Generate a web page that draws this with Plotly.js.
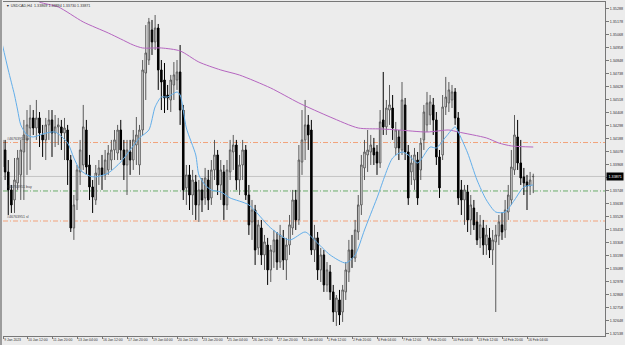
<!DOCTYPE html>
<html><head><meta charset="utf-8">
<script src="https://cdn.plot.ly/plotly-3.0.1.min.js"></script>
<style>html,body{margin:0;padding:0;background:#ececec;overflow:hidden}#chart{width:625px;height:345px}</style>
</head><body><div id="chart"></div>
<script>
const headerText = "\u25BC USDCAD,H4  1.33869 1.33894 1.33730 1.33871";
const firstBar = 1;
const openP = [1.34180,1.34095,1.33909,1.33757,1.33672,1.33816,1.33884,1.34078,1.34180,1.34281,1.34366,1.34281,1.34366,1.34222,1.34180,1.34307,1.34349,1.34239,1.34290,1.34290,1.34239,1.34264,1.34010,1.33435,1.33672,1.33909,1.33968,1.34264,1.33968,1.33782,1.33672,1.33884,1.33943,1.33884,1.33926,1.34010,1.34095,1.34069,1.34264,1.34095,1.33968,1.34078,1.34010,1.34137,1.33968,1.34264,1.34746,1.34856,1.35110,1.35009,1.35127,1.34772,1.34687,1.34560,1.34518,1.34645,1.34687,1.34755,1.34433,1.33774,1.33884,1.33714,1.33824,1.33630,1.33757,1.33689,1.33841,1.33689,1.33926,1.34053,1.33799,1.33909,1.33630,1.33909,1.34078,1.34137,1.33841,1.33968,1.34095,1.33714,1.33486,1.33587,1.33266,1.33435,1.33207,1.33291,1.33080,1.33232,1.33334,1.33147,1.33351,1.33164,1.33291,1.33435,1.33672,1.33503,1.33993,1.34180,1.34307,1.34264,1.33249,1.33351,1.33080,1.33207,1.32953,1.33063,1.32894,1.32724,1.32826,1.32724,1.32894,1.33063,1.33249,1.33181,1.33401,1.33630,1.33943,1.34053,1.34078,1.34112,1.34078,1.33985,1.34349,1.34290,1.34433,1.34450,1.34112,1.34205,1.34095,1.34476,1.34078,1.33909,1.33841,1.34010,1.33926,1.34180,1.34307,1.34391,1.34476,1.34349,1.34036,1.34053,1.34459,1.34493,1.34518,1.34586,1.34366,1.33757,1.33672,1.33740,1.33503,1.33604,1.33486,1.33351,1.33435,1.33291,1.33351,1.33249,1.33317,1.33368,1.33461,1.33418,1.33570,1.33672,1.33926,1.34205,1.33985,1.33867,1.33824,1.33791,1.33869];
const highP = [1.34307,1.34180,1.34010,1.33799,1.34027,1.34095,1.34180,1.34349,1.34433,1.34476,1.34433,1.34518,1.34416,1.34307,1.34366,1.34433,1.34433,1.34391,1.34366,1.34349,1.34366,1.34307,1.34053,1.33714,1.33968,1.34180,1.34476,1.34349,1.34053,1.33841,1.33968,1.34010,1.34053,1.34095,1.34137,1.34180,1.34264,1.34307,1.34349,1.34180,1.34180,1.34180,1.34264,1.34374,1.34307,1.34856,1.35152,1.35212,1.35195,1.35237,1.35161,1.34856,1.34831,1.34645,1.34730,1.34839,1.34856,1.34983,1.34476,1.33968,1.33968,1.33926,1.33884,1.33841,1.33858,1.33943,1.33926,1.34010,1.34180,1.34095,1.34010,1.33968,1.34010,1.34180,1.34222,1.34180,1.34053,1.34180,1.34137,1.33799,1.33672,1.33630,1.33503,1.33503,1.33376,1.33351,1.33291,1.33418,1.33401,1.33461,1.33418,1.33351,1.33545,1.33757,1.33757,1.34137,1.34433,1.34518,1.34391,1.34349,1.33461,1.33401,1.33266,1.33249,1.33147,1.33122,1.32953,1.32868,1.32911,1.32953,1.33147,1.33334,1.33376,1.33503,1.33714,1.34053,1.34180,1.34264,1.34222,1.34197,1.34137,1.34433,1.34755,1.34518,1.34645,1.34560,1.34332,1.34264,1.34670,1.34535,1.34137,1.34053,1.34112,1.34078,1.34197,1.34476,1.34586,1.34560,1.34535,1.34416,1.34095,1.34560,1.34713,1.34670,1.34645,1.34619,1.34416,1.33841,1.33799,1.33799,1.33714,1.33672,1.33570,1.33545,1.33503,1.33461,1.33435,1.33418,1.33461,1.33545,1.33570,1.33672,1.33799,1.34095,1.34391,1.34349,1.34180,1.33943,1.33884,1.33909,1.33894];
const lowP = [1.33909,1.33841,1.33545,1.33562,1.33562,1.33757,1.33672,1.33672,1.33884,1.33926,1.34222,1.34180,1.34120,1.34036,1.34010,1.34180,1.34036,1.34120,1.34137,1.34095,1.34010,1.33799,1.33401,1.33334,1.33587,1.33799,1.33926,1.33884,1.33672,1.33562,1.33630,1.33799,1.33757,1.33841,1.33884,1.33926,1.34010,1.34010,1.34010,1.33841,1.33714,1.33884,1.33926,1.33968,1.33884,1.34222,1.34518,1.34814,1.34899,1.34941,1.34603,1.34433,1.34408,1.34433,1.34416,1.34518,1.34603,1.34307,1.33672,1.33630,1.33587,1.33545,1.33503,1.33486,1.33570,1.33630,1.33587,1.33630,1.33841,1.33714,1.33672,1.33503,1.33587,1.33841,1.33926,1.33757,1.33714,1.33841,1.33672,1.33376,1.33334,1.33122,1.33207,1.33122,1.33080,1.32953,1.32978,1.33097,1.33080,1.33097,1.33080,1.32995,1.33207,1.33376,1.33418,1.33461,1.33884,1.34010,1.34095,1.33207,1.33147,1.32995,1.32978,1.32894,1.32894,1.32826,1.32640,1.32606,1.32614,1.32640,1.32826,1.32978,1.33097,1.33147,1.33334,1.33545,1.33841,1.33909,1.33968,1.33968,1.33884,1.33943,1.34222,1.34222,1.34307,1.34180,1.34053,1.34010,1.34053,1.34010,1.33630,1.33799,1.33757,1.33630,1.33841,1.34095,1.34247,1.34307,1.34222,1.33968,1.33689,1.34010,1.34391,1.34416,1.34450,1.34307,1.33630,1.33545,1.33461,1.33401,1.33376,1.33418,1.33291,1.33266,1.33207,1.33207,1.33181,1.33122,1.32724,1.33291,1.33334,1.33351,1.33503,1.33630,1.33884,1.33926,1.33799,1.33714,1.33587,1.33714,1.33730];
const closeP = [1.33951,1.33909,1.33757,1.33630,1.33841,1.34027,1.34095,1.34222,1.34307,1.34366,1.34281,1.34366,1.34239,1.34180,1.34307,1.34349,1.34239,1.34290,1.34307,1.34239,1.34281,1.34010,1.33435,1.33630,1.33926,1.34095,1.34290,1.33951,1.33782,1.33697,1.33900,1.33943,1.33884,1.34010,1.34069,1.34095,1.34180,1.34264,1.34095,1.33968,1.34095,1.34010,1.34180,1.34222,1.34264,1.34772,1.34916,1.35178,1.35009,1.35127,1.34772,1.34670,1.34535,1.34535,1.34687,1.34730,1.34755,1.34433,1.33757,1.33884,1.33714,1.33841,1.33630,1.33757,1.33672,1.33858,1.33672,1.33926,1.34053,1.33799,1.33926,1.33630,1.33926,1.34095,1.34137,1.33841,1.33968,1.34095,1.33714,1.33461,1.33587,1.33249,1.33461,1.33207,1.33317,1.33080,1.33249,1.33334,1.33147,1.33376,1.33164,1.33291,1.33461,1.33672,1.33503,1.34010,1.34180,1.34307,1.34222,1.33249,1.33351,1.33080,1.33207,1.32953,1.33080,1.32894,1.32724,1.32843,1.32699,1.32911,1.33080,1.33249,1.33181,1.33418,1.33630,1.33968,1.34078,1.34095,1.34137,1.34053,1.33985,1.34332,1.34290,1.34450,1.34476,1.34281,1.34264,1.34112,1.34518,1.34078,1.33689,1.33985,1.34053,1.33689,1.34154,1.34416,1.34493,1.34501,1.34349,1.34036,1.33774,1.34459,1.34543,1.34603,1.34586,1.34366,1.33689,1.33672,1.33757,1.33503,1.33630,1.33461,1.33334,1.33461,1.33291,1.33376,1.33249,1.33334,1.33376,1.33486,1.33401,1.33587,1.33714,1.33951,1.34222,1.33985,1.33858,1.33816,1.33791,1.33841,1.33871];

const maBlueBar = [1,3,5,6,7,9,11,14,18,22,24,26,29,31,35,39,42,45,48,50,52,54,57,58,60,63,64,66,68,71,74,80,87,93,98,101,106,111,114,117,121,126,129,131,134,138,140,143,146,147,150,153,156,159,162,165,168,171];
const maBlueVal = [1.35000,1.34772,1.34560,1.34433,1.34307,1.34222,1.34205,1.34230,1.34247,1.34154,1.34027,1.33926,1.33875,1.33867,1.33900,1.33993,1.34095,1.34197,1.34264,1.34459,1.34543,1.34543,1.34586,1.34560,1.34281,1.34053,1.33884,1.33799,1.33756,1.33740,1.33689,1.33630,1.33435,1.33333,1.33401,1.33333,1.33207,1.33139,1.33207,1.33418,1.33689,1.34027,1.34078,1.34053,1.33985,1.34120,1.34112,1.34205,1.34290,1.34247,1.34070,1.33841,1.33672,1.33570,1.33570,1.33672,1.33782,1.33799];
const maPurpleBar = [8,13,19,27,35,39,43,46,52,58,64,71,77,87,96,106,115,122,128,137,144,147,156,160,164,171];
const maPurpleVal = [1.35440,1.35347,1.35305,1.35178,1.35085,1.35034,1.34983,1.34958,1.34958,1.34933,1.34839,1.34772,1.34729,1.34619,1.34493,1.34374,1.34281,1.34273,1.34264,1.34247,1.34264,1.34247,1.34197,1.34154,1.34129,1.34120];

const timeLabels = ["9 Jan 2023","10 Jan 12:00","11 Jan 20:00","13 Jan 04:00","16 Jan 12:00","17 Jan 20:00","19 Jan 04:00","20 Jan 12:00","23 Jan 20:00","25 Jan 04:00","26 Jan 12:00","27 Jan 20:00","31 Jan 04:00","1 Feb 12:00","2 Feb 20:00","6 Feb 04:00","7 Feb 12:00","8 Feb 20:00","10 Feb 04:00","13 Feb 12:00","14 Feb 20:00","16 Feb 04:00"];
const barsPerLabel = 8;
const priceLabels = ["1.35288","1.35178","1.35068","1.34958","1.34848","1.34738","1.34628","1.34518","1.34408","1.34298","1.34188","1.34078","1.33968","1.33858","1.33748","1.33638","1.33528","1.33418","1.33308","1.33198","1.33088","1.32978","1.32868","1.32758","1.32648","1.32538"];

const orderNames = ["#46763951 tp","#46763951 buy","#46763951 sl"];
const orderPrices = [1.34158,1.33748,1.33494];
const orderColors = ["#f2a27a","#6aad6a","#f2a27a"];
const bidPrice = 1.33871;
const bidText = "1.33871";

const xView = [1.32, 193.96];
const bars = openP.map((_, k) => firstBar + k);
const F = "Liberation Sans, Arial, sans-serif";
// the price label hidden behind the bid box in the reference
const shownPriceText = priceLabels.map(t => Math.abs(Number(t) - bidPrice) < 0.0003 ? "" : t);
// first label marks the left edge of the visible window
const timeTickPos = timeLabels.map((_, k) => Math.max(xView[0] + 0.05, firstBar + barsPerLabel*k));

const traces = [
  {type:'candlestick', x:bars, open:openP, high:highP, low:lowP, close:closeP,
   increasing:{line:{color:'#5a5a5a',width:1}, fillcolor:'#ffffff'},
   decreasing:{line:{color:'#000000',width:1}, fillcolor:'#000000'},
   whiskerwidth:0, hoverinfo:'skip', showlegend:false},
  {type:'scatter', mode:'lines', x:maPurpleBar, y:maPurpleVal,
   line:{color:'#b565c0', width:1, shape:'spline', smoothing:0.7}, hoverinfo:'skip', showlegend:false},
  {type:'scatter', mode:'lines', x:maBlueBar, y:maBlueVal,
   line:{color:'#62aeea', width:1, shape:'spline', smoothing:0.7}, hoverinfo:'skip', showlegend:false}
];

const shapes = [
  {type:'line', xref:'paper', x0:0, x1:1, yref:'y', y0:bidPrice, y1:bidPrice, line:{color:'#c4c4c4', width:1}, layer:'below'}
];
orderPrices.forEach((p, k) => shapes.push({type:'line', xref:'paper', x0:0, x1:1, yref:'y', y0:p, y1:p,
  line:{color:orderColors[k], width:1, dash:'5px,2px,1px,2px'}, layer:'below'}));
shapes.push({type:'rect', xref:'paper', yref:'paper', x0:-3/602, x1:-1/602, y0:-9/334, y1:1+2/334, fillcolor:'#9c9c9c', line:{width:0}});

const annotations = [
  {xref:'paper', yref:'paper', x:0.001, y:1, xanchor:'left', yanchor:'top', text:headerText, showarrow:false,
   font:{family:F, size:3.7, color:'#333'}},
  {xref:'paper', yref:'y', x:1, y:bidPrice, xanchor:'left', yanchor:'middle', text:bidText, showarrow:false,
   bgcolor:'#000', font:{family:F, size:3.7, color:'#fff'}, borderpad:1.5, xshift:1}
];
orderPrices.forEach((p, k) => annotations.push({xref:'paper', yref:'y', x:0.004, y:p, xanchor:'left', yanchor:'bottom',
  text:orderNames[k], showarrow:false, font:{family:F, size:3.6, color:'#444'}}));

const layout = {
  width:625, height:345, margin:{l:3, r:20, t:2, b:9},
  paper_bgcolor:'#ececec', plot_bgcolor:'#ececec', showlegend:false,
  xaxis:{range:xView, rangeslider:{visible:false}, showgrid:false, zeroline:false,
    showline:true, linecolor:'#777', linewidth:1, mirror:true,
    tickmode:'array', tickvals:timeTickPos, ticktext:timeLabels,
    ticks:'outside', ticklen:2, tickcolor:'#777', ticklabelposition:'outside right', tickangle:0,
    ticklabelstandoff:0, automargin:false,
    tickfont:{family:F, size:3.4, color:'#333'}},
  yaxis:{range:[1.32521, 1.35347], side:'right', showgrid:false, zeroline:false,
    showline:true, linecolor:'#777', linewidth:1, automargin:false,
    tickmode:'array', tickvals:priceLabels.map(Number), ticktext:shownPriceText,
    ticks:'outside', ticklen:3, tickcolor:'#777', tickfont:{family:F, size:3.7, color:'#333'}},
  shapes:shapes, annotations:annotations
};
Plotly.newPlot('chart', traces, layout, {staticPlot:true, displayModeBar:false});
</script></body></html>
